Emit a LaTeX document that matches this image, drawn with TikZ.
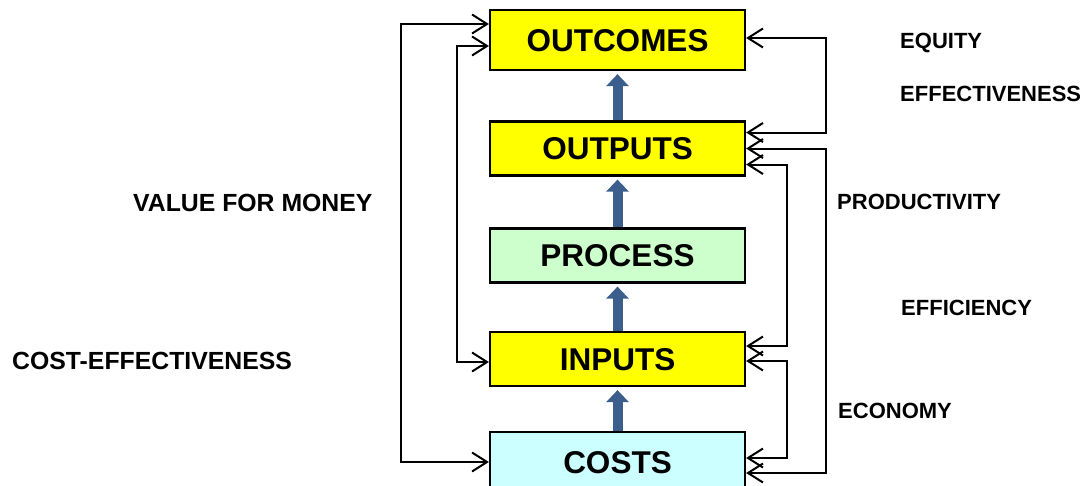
\documentclass[tikz,border=0pt]{standalone}
\usepackage{fontspec}
\setmainfont{Liberation Sans}
\usetikzlibrary{arrows.meta, positioning}

\definecolor{stageyellow}{HTML}{FFFF00}
\definecolor{stagegreen}{HTML}{CCFFCC}
\definecolor{stagecyan}{HTML}{CCFFFF}
\definecolor{flowblue}{HTML}{3B5E8C}

\begin{document}
\begin{tikzpicture}[x=1pt, y=-1pt, on grid,
        stage/.style={draw, line width=2.2pt, minimum width=255pt, minimum height=54pt,
            inner sep=0pt, font=\fontsize{31.5}{36}\selectfont\bfseries,
            text height=22.5pt, text depth=0pt},
        flow/.style={color=flowblue, line width=10pt,
            -{Triangle[length=12pt, width=22pt]}, shorten >=3pt},
        link/.style={line width=2pt,
            {Straight Barb[length=15pt, width=19pt]}-{Straight Barb[length=15pt, width=19pt]}},
        measure/.style={anchor=west, inner sep=0pt, font=\fontsize{22}{26}\selectfont\bfseries,
            text height=15.8pt, text depth=0pt},
        bigmeasure/.style={measure, font=\fontsize{24.8}{28}\selectfont\bfseries, text height=17.8pt}]

        \useasboundingbox (0,0) rectangle (1089,485);

        \node[stage, fill=stageyellow, minimum height=60pt] (OUTCOMES) at (617.5,40) {OUTCOMES};
        \node[stage, fill=stageyellow, below=108.5pt of OUTCOMES] (OUTPUTS) {OUTPUTS};
        \node[stage, fill=stagegreen, below=107pt of OUTPUTS] (PROCESS) {PROCESS};
        \node[stage, fill=stageyellow, below=103.5pt of PROCESS] (INPUTS) {INPUTS};
        \node[stage, fill=stagecyan, minimum height=60pt, below=103pt of INPUTS] (COSTS) {COSTS};

        \foreach \from/\to in {COSTS/INPUTS, INPUTS/PROCESS, PROCESS/OUTPUTS, OUTPUTS/OUTCOMES}
            \draw[flow] (\from.north) -- (\to.south);

        % right side
        \draw[link] ([yshift=2pt]OUTCOMES.east) -- ++(80,0) |- ([yshift=16pt]OUTPUTS.east);
        \draw[link] (OUTPUTS.east) -- ++(80,0) |- ([yshift=-11pt]COSTS.east);
        \draw[link] ([yshift=-16pt]OUTPUTS.east) -- ++(41,0) |- ([yshift=13pt]INPUTS.east);
        \draw[link] ([yshift=-2pt]INPUTS.east) -- ++(41,0) |- ([yshift=4pt]COSTS.east);

        % left side
        \draw[link] ([yshift=16pt]OUTCOMES.west) -- ++(-88,0) |- (COSTS.west);
        \draw[link] ([yshift=-6pt]OUTCOMES.west) -- ++(-32,0) |- ([yshift=-3pt]INPUTS.west);

        \node[measure] (EQUITY) at (900,41) {EQUITY};
        \node[measure] (EFFECTIVE) at (900,94) {EFFECTIVENESS};
        \node[measure] (PRODUCTIVE) at (837,202) {PRODUCTIVITY};
        \node[measure] (EFFICIENT) at (901,308) {EFFICIENCY};
        \node[measure] (ECONOMY) at (838,411) {ECONOMY};
        \node[bigmeasure] (VFM) at (133,203) {VALUE FOR MONEY};
        \node[bigmeasure] (CE) at (12,361) {COST-EFFECTIVENESS};

\end{tikzpicture}
\end{document}
